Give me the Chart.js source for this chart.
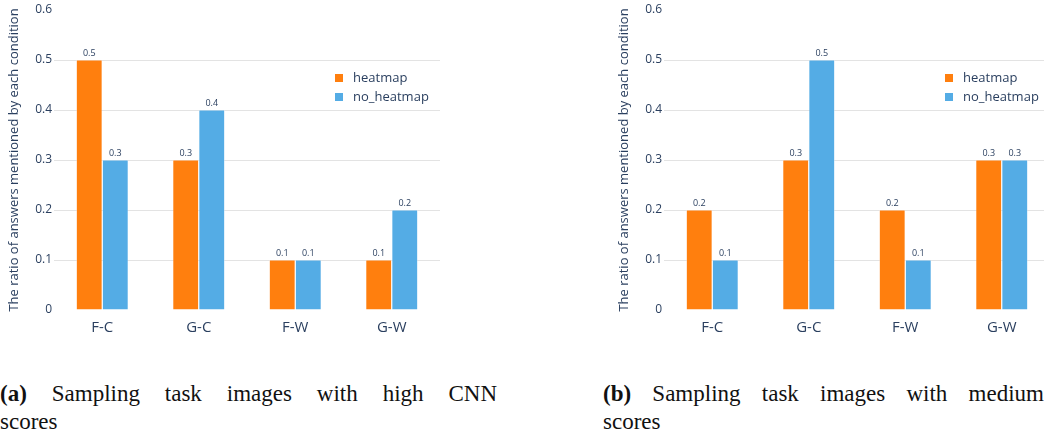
<!DOCTYPE html>
<html>
<head>
<meta charset="utf-8">
<script src="https://cdn.jsdelivr.net/npm/chart.js@4.4.1/dist/chart.umd.min.js"></script>
<style>
  body { margin: 0; width: 1044px; height: 436px; overflow: hidden; background: #fff; position: relative; }
  .panel { position: absolute; top: 0; width: 480px; height: 340px; }
  .caption { position: absolute; top: 380px; font-family: 'Liberation Serif', serif; font-size: 23px; line-height: 28px; color: #111; }
  .caption .l1 { text-align: justify; text-align-last: justify; white-space: nowrap; }
</style>
</head>
<body>
<div class="panel" style="left:0"><canvas id="chartA" width="480" height="340"></canvas></div>
<div class="panel" style="left:610px"><canvas id="chartB" width="480" height="340"></canvas></div>
<div class="caption" style="left:0; width:497px">
  <div class="l1"><b>(a)</b> Sampling task images with high CNN</div>
  <div>scores</div>
</div>
<div class="caption" style="left:603px; width:441px">
  <div class="l1"><b>(b)</b> Sampling task images with medium</div>
  <div>scores</div>
</div>
<script>
// data
const categories = ['F-C', 'G-C', 'F-W', 'G-W'];
const seriesNames = ['heatmap', 'no_heatmap'];
const highHeatmap = [0.5, 0.3, 0.1, 0.1];
const highNoHeatmap = [0.3, 0.4, 0.1, 0.2];
const mediumHeatmap = [0.2, 0.3, 0.2, 0.3];
const mediumNoHeatmap = [0.1, 0.5, 0.1, 0.3];
const yMin = 0, yMax = 0.6, yStep = 0.1;

const colors = ['#ff7f0e', '#54ace5'];
const textColor = '#2a3f5f';
Chart.defaults.font.family = "'Open Sans', sans-serif";

// numbers above each bar
const barLabels = {
  id: 'barLabels',
  afterDatasetsDraw(chart) {
    const ctx = chart.ctx;
    ctx.save();
    ctx.font = "9px 'Open Sans', sans-serif";
    ctx.fillStyle = textColor;
    ctx.textAlign = 'center';
    ctx.textBaseline = 'bottom';
    chart.data.datasets.forEach((ds, i) => {
      chart.getDatasetMeta(i).data.forEach((bar, j) => {
        ctx.fillText(ds.data[j], bar.x, bar.y - 2);
      });
    });
    ctx.restore();
  }
};

// legend box sitting inside the plot, top right
const insideLegend = {
  id: 'insideLegend',
  afterDraw(chart) {
    const ctx = chart.ctx;
    const x = chart.chartArea.right - 105;
    let y = 78;
    ctx.save();
    ctx.font = "13px 'Open Sans', sans-serif";
    ctx.textBaseline = 'middle';
    chart.data.datasets.forEach(ds => {
      ctx.fillStyle = ds.backgroundColor;
      ctx.fillRect(x, y - 4, 8, 8);
      ctx.fillStyle = textColor;
      ctx.fillText(ds.label, x + 18, y);
      y += 19;
    });
    ctx.restore();
  }
};

function makeChart(id, heat, noHeat) {
  const ctx = document.getElementById(id).getContext('2d');
  return new Chart(ctx, {
    type: 'bar',
    data: {
      labels: categories,
      datasets: [
        { label: seriesNames[0], data: heat, backgroundColor: colors[0], borderColor: 'rgba(255,255,255,0.6)', borderWidth: 0.6 },
        { label: seriesNames[1], data: noHeat, backgroundColor: colors[1], borderColor: 'rgba(255,255,255,0.6)', borderWidth: 0.6 }
      ]
    },
    options: {
      responsive: false,
      animation: false,
      categoryPercentage: 0.54,
      barPercentage: 1,
      layout: { padding: { left: 0, right: 40, top: 10, bottom: 0 } },
      plugins: {
        legend: { display: false },
        tooltip: { enabled: false }
      },
      scales: {
        x: {
          grid: { display: false },
          border: { display: false },
          ticks: { color: textColor, font: { size: 15 }, padding: 1 },
          afterFit(scale) { scale.height = 30; }
        },
        y: {
          min: yMin,
          max: yMax,
          border: { display: false },
          grid: {
            drawTicks: false,
            color: c => (c.tick.value > yMin && c.tick.value < yMax - 1e-9) ? '#e3e3e3' : 'rgba(0,0,0,0)'
          },
          ticks: {
            stepSize: yStep,
            color: textColor,
            font: { size: 12 },
            padding: 2,
            callback: v => v === 0 ? '0' : v.toFixed(1)
          },
          title: {
            display: true,
            text: 'The ratio of answers mentioned by each condition',
            color: textColor,
            font: { size: 13 },
            padding: { top: 6, bottom: 0 }
          },
          afterFit(scale) { scale.width = 54; }
        }
      }
    },
    plugins: [barLabels, insideLegend]
  });
}

makeChart('chartA', highHeatmap, highNoHeatmap);
makeChart('chartB', mediumHeatmap, mediumNoHeatmap);
</script>
</body>
</html>
